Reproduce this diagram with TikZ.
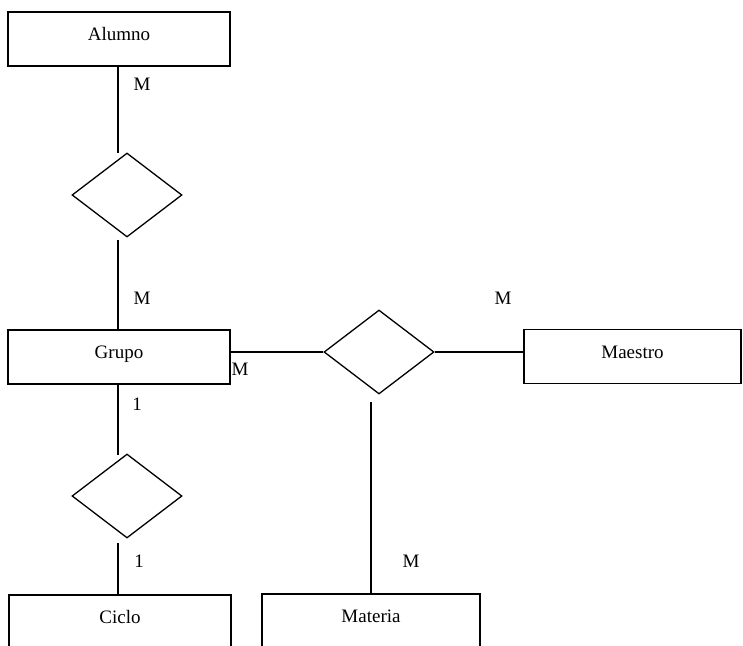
\documentclass[tikz,border=0pt]{standalone}
\usepackage{fontspec}
\setmainfont{Liberation Serif}
\usetikzlibrary{shapes.geometric}
\begin{document}
\begin{tikzpicture}[x=1pt,y=-1pt,line width=1.3pt,
  font=\fontsize{19}{21}\selectfont,
  entity/.style={draw, rectangle, minimum width=222pt, minimum height=54pt, inner sep=0pt, text height=13pt, text depth=10pt},
  rel/.style={draw, diamond, minimum width=110pt, minimum height=84pt, inner sep=0pt},
  card/.style={inner sep=0pt}]
\useasboundingbox (0,0) rectangle (743,645);
\clip (0,0) rectangle (743,645);
\node[entity] (alumno) at (119,39) {Alumno};
\node[entity] (grupo) at (119,357) {Grupo};
\node[entity, minimum width=217pt] (maestro) at (632.5,356.5) {Maestro};
\node[entity] (ciclo) at (120,622) {Ciclo};
\node[entity, minimum width=218pt] (materia) at (371,621) {Materia};
\node[rel] (r1) at (127,195) {};
\node[rel] (r2) at (379,352) {};
\node[rel] (r3) at (127,496) {};
\coordinate (r1top) at (118,153);
\coordinate (r1bot) at (118,240);
\coordinate (r3top) at (118,455);
\coordinate (r3bot) at (118,543);
\coordinate (r2bot) at (371,402);
\draw (alumno.south -| r1top) -- (r1top);
\draw (r1bot) -- (grupo.north -| r1bot);
\draw (grupo.south -| r3top) -- (r3top);
\draw (r3bot) -- (ciclo.north -| r3bot);
\draw (grupo.east |- r2.west) -- (r2.west);
\draw (r2.east) -- (maestro.west |- r2.east);
\draw (r2bot) -- (materia.north -| r2bot);
\node[card] (c1) at (142,84) {M};
\node[card] (c2) at (142,298) {M};
\node[card] (c3) at (240,369) {M};
\node[card] (c4) at (503,298) {M};
\node[card] (c5) at (137,404) {1};
\node[card] (c6) at (139,561) {1};
\node[card] (c7) at (411,561) {M};
\end{tikzpicture}
\end{document}
